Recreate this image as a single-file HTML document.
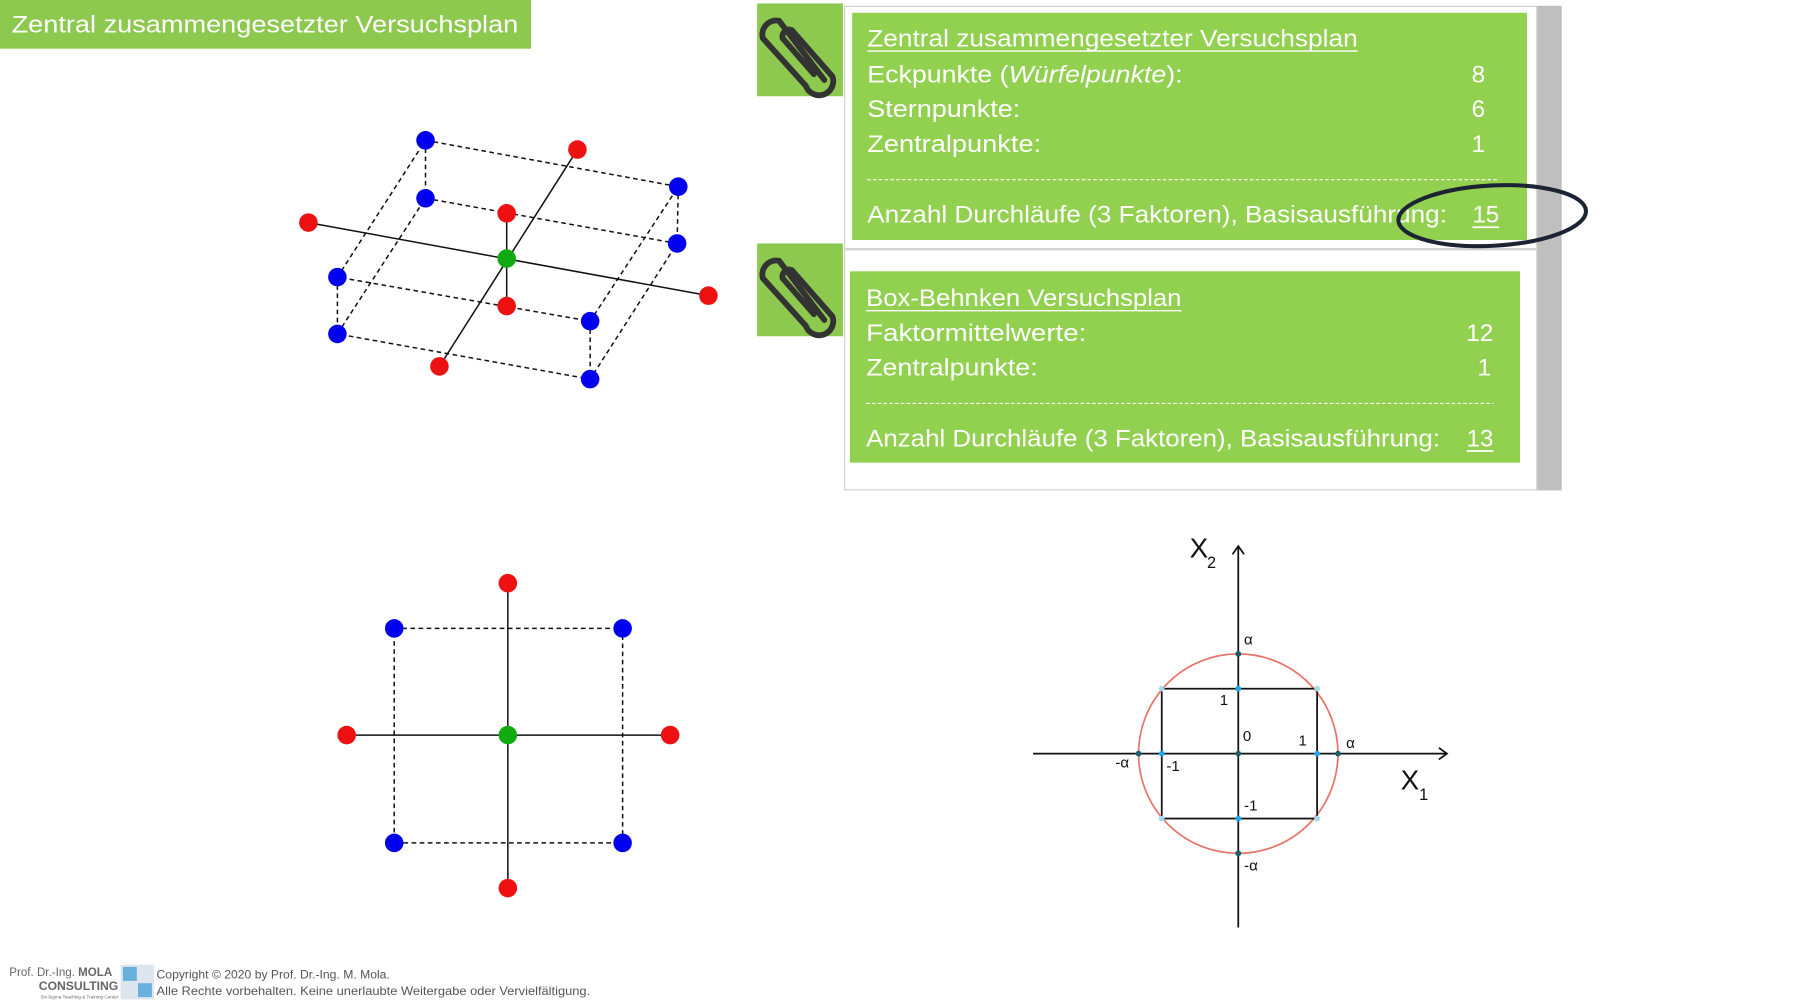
<!DOCTYPE html>
<html><head><meta charset="utf-8"><style>
html,body{margin:0;padding:0;background:#fff;}
svg{display:block;font-family:"Liberation Sans",sans-serif;}
</style></head><body>
<svg width="1818" height="1008" viewBox="0 0 1568 869.4" xmlns="http://www.w3.org/2000/svg">
<rect width="1568" height="870" fill="#fff"/>
<!-- title -->
<rect x="0" y="0" width="458" height="42" fill="#8dc94e"/>
<text x="10" y="28" font-size="21" fill="#fff" textLength="437" lengthAdjust="spacingAndGlyphs">Zentral zusammengesetzter Versuchsplan</text>

<!-- panel -->
<rect x="1325" y="5" width="22" height="418" fill="#bfbfbf"/>
<rect x="728.5" y="5.5" width="597" height="417" fill="#fff" stroke="#cfcfcf"/>
<line x1="729" y1="215" x2="1325" y2="215" stroke="#cfcfcf" stroke-width="2"/>
<rect x="653" y="3" width="74" height="80" fill="#8dc94e"/>
<rect x="653" y="210" width="74" height="80" fill="#8dc94e"/>
<g fill="none" stroke="#333" stroke-width="5" stroke-linecap="round">
<path d="M711 73 L672 22 A12 12 0 0 0 658 37 L695 78 A12 12 0 0 0 718 70 L683 30 A6 6 0 0 0 675 37 L702 68" transform="translate(0,-4)"/>
<path d="M711 73 L672 22 A12 12 0 0 0 658 37 L695 78 A12 12 0 0 0 718 70 L683 30 A6 6 0 0 0 675 37 L702 68" transform="translate(0,203)"/>
</g>
<rect x="735" y="11" width="582" height="196" fill="#92d050"/>
<rect x="733" y="234" width="578" height="165" fill="#92d050"/>
<g fill="#fff" font-size="21">
<text x="748" y="40" textLength="423" lengthAdjust="spacingAndGlyphs">Zentral zusammengesetzter Versuchsplan</text>
<line x1="748" y1="44" x2="1171" y2="44" stroke="#fff" stroke-width="1.2"/>
<text x="748" y="71" textLength="272" lengthAdjust="spacingAndGlyphs">Eckpunkte (<tspan font-style="italic">Würfelpunkte</tspan>):</text>
<text x="1281" y="71" text-anchor="end">8</text>
<text x="748" y="101" textLength="132" lengthAdjust="spacingAndGlyphs">Sternpunkte:</text>
<text x="1281" y="101" text-anchor="end">6</text>
<text x="748" y="131" textLength="150" lengthAdjust="spacingAndGlyphs">Zentralpunkte:</text>
<text x="1281" y="131" text-anchor="end">1</text>
<line x1="748" y1="155" x2="1292" y2="155" stroke="#fff" stroke-dasharray="3,2" stroke-width="1"/>
<text x="748" y="192" textLength="500" lengthAdjust="spacingAndGlyphs">Anzahl Durchläufe (3 Faktoren), Basisausführung:</text>
<text x="1270" y="192" textLength="23" lengthAdjust="spacingAndGlyphs">15</text>
<line x1="1270" y1="196" x2="1293" y2="196" stroke="#fff" stroke-width="1.5"/>

<text x="747" y="264" textLength="272" lengthAdjust="spacingAndGlyphs">Box-Behnken Versuchsplan</text>
<line x1="747" y1="268" x2="1019" y2="268" stroke="#fff" stroke-width="1.2"/>
<text x="747" y="294" textLength="190" lengthAdjust="spacingAndGlyphs">Faktormittelwerte:</text>
<text x="1288" y="294" text-anchor="end">12</text>
<text x="747" y="324" textLength="148" lengthAdjust="spacingAndGlyphs">Zentralpunkte:</text>
<text x="1286" y="324" text-anchor="end">1</text>
<line x1="747" y1="348" x2="1288" y2="348" stroke="#fff" stroke-dasharray="3,2" stroke-width="1"/>
<text x="747" y="385" textLength="495" lengthAdjust="spacingAndGlyphs">Anzahl Durchläufe (3 Faktoren), Basisausführung:</text>
<text x="1265" y="385" textLength="23" lengthAdjust="spacingAndGlyphs">13</text>
<line x1="1265" y1="389" x2="1288" y2="389" stroke="#fff" stroke-width="1.5"/>
</g>
<ellipse cx="1287" cy="186" rx="81" ry="26" fill="none" stroke="#1c2333" stroke-width="3.5" transform="rotate(-3 1287 186)"/>

<!-- 3D cube -->
<g stroke="#111" stroke-width="1.3" fill="none">
<g stroke-dasharray="4,3">
<polygon points="367,121 585,161 509,277 291,239"/>
<polygon points="367,171 584,210 509,327 291,288"/>
<line x1="367" y1="121" x2="367" y2="171"/><line x1="585" y1="161" x2="584" y2="210"/>
<line x1="291" y1="239" x2="291" y2="288"/><line x1="509" y1="277" x2="509" y2="327"/>
</g>
<line x1="266" y1="192" x2="611" y2="255"/>
<line x1="498" y1="129" x2="379" y2="316"/>
<line x1="437" y1="184" x2="437" y2="264"/>
</g>
<g fill="#0000ee">
<circle cx="367" cy="121" r="8"/><circle cx="585" cy="161" r="8"/><circle cx="367" cy="171" r="8"/><circle cx="584" cy="210" r="8"/>
<circle cx="291" cy="239" r="8"/><circle cx="509" cy="277" r="8"/><circle cx="291" cy="288" r="8"/><circle cx="509" cy="327" r="8"/>
</g>
<g fill="#ee1111">
<circle cx="266" cy="192" r="8"/><circle cx="611" cy="255" r="8"/><circle cx="498" cy="129" r="8"/><circle cx="379" cy="316" r="8"/>
<circle cx="437" cy="184" r="8"/><circle cx="437" cy="264" r="8"/>
</g>
<circle cx="437" cy="223" r="8" fill="#11aa11"/>

<!-- 2D -->
<g stroke="#111" stroke-width="1.3" fill="none">
<rect x="340" y="542" width="197" height="185" stroke-dasharray="4,3"/>
<line x1="438" y1="503" x2="438" y2="766"/>
<line x1="299" y1="634" x2="578" y2="634"/>
</g>
<g fill="#0000ee"><circle cx="340" cy="542" r="8"/><circle cx="537" cy="542" r="8"/><circle cx="340" cy="727" r="8"/><circle cx="537" cy="727" r="8"/></g>
<g fill="#ee1111"><circle cx="438" cy="503" r="8"/><circle cx="438" cy="766" r="8"/><circle cx="299" cy="634" r="8"/><circle cx="578" cy="634" r="8"/></g>
<circle cx="438" cy="634" r="8" fill="#11aa11"/>

<!-- coordinate plot -->
<circle cx="1068" cy="650" r="86" fill="none" stroke="#e8756a" stroke-width="1.5"/>
<g stroke="#111" stroke-width="1.5" fill="none">
<line x1="891" y1="650" x2="1248" y2="650"/><polyline points="1241,645 1248,650 1241,655"/>
<line x1="1068" y1="800" x2="1068" y2="471"/><polyline points="1063,478 1068,471 1073,478"/>
<rect x="1002" y="594" width="134" height="112"/>
</g>
<g fill="#22a8e8"><circle cx="1068" cy="594" r="2.5"/><circle cx="1068" cy="706" r="2.5"/><circle cx="1002" cy="650" r="2.5"/><circle cx="1136" cy="650" r="2.5"/></g>
<g fill="#a8d8e8"><circle cx="1002" cy="594" r="2.5"/><circle cx="1136" cy="594" r="2.5"/><circle cx="1002" cy="706" r="2.5"/><circle cx="1136" cy="706" r="2.5"/></g>
<g fill="#1f5f6a"><circle cx="1068" cy="650" r="2.5"/><circle cx="1068" cy="564" r="2.5"/><circle cx="1068" cy="736" r="2.5"/><circle cx="982" cy="650" r="2.5"/><circle cx="1154" cy="650" r="2.5"/></g>
<g fill="#111" font-size="13">
<text x="1073" y="556">α</text><text x="1161" y="645">α</text><text x="962" y="662">-α</text><text x="1073" y="751">-α</text>
<text x="1052" y="608">1</text><text x="1072" y="639">0</text><text x="1120" y="643">1</text><text x="1006" y="665">-1</text><text x="1073" y="699">-1</text>
<text x="1026" y="481" font-size="24">X</text><text x="1041" y="490" font-size="14">2</text>
<text x="1208" y="681" font-size="24">X</text><text x="1224" y="690" font-size="14">1</text>
</g>

<!-- footer -->
<g font-size="10" fill="#666">
<text x="8" y="842">Prof. Dr.-Ing. <tspan font-weight="bold">MOLA</tspan></text>
<text x="102" y="854" text-anchor="end" font-weight="bold" font-size="10.5">CONSULTING</text>
<text x="102" y="861" text-anchor="end" font-size="4">Six Sigma Teaching &amp; Training Center</text>
</g>
<rect x="104" y="832" width="29" height="30" fill="#dde6ee"/>
<rect x="106" y="834" width="12" height="12" fill="#6ab0de"/><rect x="119" y="848" width="12" height="12" fill="#6ab0de"/>
<g font-size="10.5" fill="#555">
<text x="135" y="844">Copyright © 2020 by Prof. Dr.-Ing. M. Mola.</text>
<text x="135" y="858" textLength="374" lengthAdjust="spacingAndGlyphs">Alle Rechte vorbehalten. Keine unerlaubte Weitergabe oder Vervielfältigung.</text>
</g>
</svg>
</body></html>
